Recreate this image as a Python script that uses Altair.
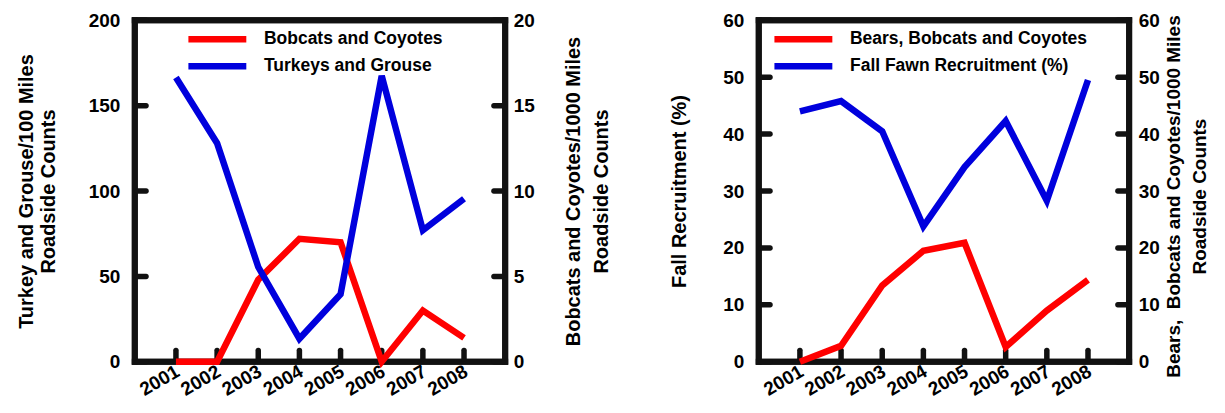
import altair as alt
import pandas as pd

# ---------------- data ----------------
years = [2001, 2002, 2003, 2004, 2005, 2006, 2007, 2008]

turkeys_grouse = [166.5, 128.0, 55.5, 13.5, 39.5, 167.5, 77.0, 95.5]
bobcats_coyotes = [0.0, 0.0, 4.8, 7.2, 7.0, 0.0, 3.0, 1.4]

fawn_recruitment = [44.0, 45.8, 40.5, 23.8, 34.2, 42.3, 28.3, 49.5]
bears_bobcats_coyotes = [0.0, 2.8, 13.4, 19.5, 20.9, 2.6, 9.0, 14.4]

left_ticks_a = [0, 50, 100, 150, 200]
left_ticks_b = [0, 5, 10, 15, 20]
right_ticks = [0, 10, 20, 30, 40, 50, 60]

name_bc = "Bobcats and Coyotes"
name_tg = "Turkeys and Grouse"
name_bbc = "Bears, Bobcats and Coyotes"
name_ff = "Fall Fawn Recruitment (%)"

# ---------------- style ----------------
FONT = "Liberation Sans"
RED = "#FF0000"
BLUE = "#0000DD"
INK = "#111111"
W, H = 371, 342
XDOM = [2000, 2009]
LINE_W = 6.5
TICK_W = 5.5
TICK_LEN = 14
FRAME_W = 6


def xs():
    return alt.Scale(domain=XDOM, nice=False, zero=False)


def ys(dom):
    return alt.Scale(domain=dom, nice=False)


def xaxis():
    return alt.Axis(values=years, format="d", title=None, labelAngle=330,
                    labelPadding=0, labelOffset=-3, ticks=False, domain=False,
                    grid=False, labelOverlap=False, labelFontSize=19)


def legend(lx, off):
    return alt.Legend(orient="none", legendX=lx, legendY=9.5, title=None,
                      symbolType="M-5,0L5,0", symbolSize=134.6,
                      symbolStrokeWidth=6.5, labelFont=FONT, labelFontSize=17.5,
                      labelFontWeight="bold", labelColor="black",
                      labelOffset=off, rowPadding=0, padding=0, labelLimit=0)


def panel(blue_vals, blue_name, blue_dom, blue_ticks, blue_axis,
          red_vals, red_name, red_dom, red_ticks, red_axis, lx, off):
    cscale = alt.Scale(domain=[red_name, blue_name], range=[RED, BLUE])
    lg = legend(lx, off)
    red_df = pd.DataFrame({"year": years, "value": red_vals, "series": [red_name] * len(years)})
    blue_df = pd.DataFrame({"year": years, "value": blue_vals, "series": [blue_name] * len(years)})
    mid_x = (XDOM[0] + XDOM[1]) / 2
    mid_y = (blue_dom[0] + blue_dom[1]) / 2

    # frame (four edges)
    edges_h = alt.Chart(pd.DataFrame({"v": blue_dom, "m": [mid_x, mid_x]})).mark_tick(
        orient="horizontal", thickness=FRAME_W, size=W + FRAME_W, color=INK, opacity=1
    ).encode(
        x=alt.X("m:Q", scale=xs(), axis=xaxis()),
        y=alt.Y("v:Q", scale=ys(blue_dom), axis=None),
    )
    edges_v = alt.Chart(pd.DataFrame({"e": XDOM, "m": [mid_y, mid_y]})).mark_tick(
        orient="vertical", thickness=FRAME_W, size=H + FRAME_W, color=INK, opacity=1
    ).encode(
        x=alt.X("e:Q", scale=xs(), axis=xaxis()),
        y=alt.Y("m:Q", scale=ys(blue_dom), axis=None),
    )
    # inward tick marks
    xt = alt.Chart(pd.DataFrame({"year": years, "v": [blue_dom[0]] * len(years)})).mark_tick(
        orient="vertical", thickness=TICK_W, size=TICK_LEN, color=INK, opacity=1,
        yOffset=-TICK_LEN / 2, cornerRadius=2.5
    ).encode(
        x=alt.X("year:Q", scale=xs(), axis=xaxis()),
        y=alt.Y("v:Q", scale=ys(blue_dom), axis=None),
    )
    ylt = alt.Chart(pd.DataFrame({"v": blue_ticks, "e": [XDOM[0]] * len(blue_ticks)})).mark_tick(
        orient="horizontal", thickness=TICK_W, size=TICK_LEN, color=INK, opacity=1,
        xOffset=TICK_LEN / 2, cornerRadius=2.5
    ).encode(
        x=alt.X("e:Q", scale=xs(), axis=xaxis()),
        y=alt.Y("v:Q", scale=ys(blue_dom), axis=None),
    )
    yrt = alt.Chart(pd.DataFrame({"v": red_ticks, "e": [XDOM[1]] * len(red_ticks)})).mark_tick(
        orient="horizontal", thickness=TICK_W, size=TICK_LEN, color=INK, opacity=1,
        xOffset=-TICK_LEN / 2, cornerRadius=2.5
    ).encode(
        x=alt.X("e:Q", scale=xs(), axis=xaxis()),
        y=alt.Y("v:Q", scale=ys(red_dom), axis=None),
    )

    red = alt.Chart(red_df).mark_line(strokeWidth=LINE_W).encode(
        x=alt.X("year:Q", scale=xs(), axis=xaxis()),
        y=alt.Y("value:Q", scale=ys(red_dom), axis=red_axis),
        color=alt.Color("series:N", scale=cscale, legend=lg),
    )
    blue = alt.Chart(blue_df).mark_line(strokeWidth=LINE_W).encode(
        x=alt.X("year:Q", scale=xs(), axis=xaxis()),
        y=alt.Y("value:Q", scale=ys(blue_dom), axis=blue_axis),
        color=alt.Color("series:N", scale=cscale, legend=lg),
    )
    return alt.layer(edges_h, edges_v, xt, ylt, yrt, red, blue).resolve_scale(
        y="independent").properties(width=W, height=H)


left = panel(
    turkeys_grouse, name_tg, [0, 200], left_ticks_a,
    alt.Axis(orient="left", values=left_ticks_a, title=["Turkey and Grouse/100 Miles", "Roadside Counts"],
             titleLineHeight=22, titlePadding=30, labelPadding=15),
    bobcats_coyotes, name_bc, [0, 20], left_ticks_b,
    alt.Axis(orient="right", values=left_ticks_b,
             title=["Bobcats and Coyotes/1000 Miles", "Roadside Counts"],
             titleAngle=270, titleBaseline="top", titleLineHeight=28,
             titleX=58, labelPadding=8),
    73.2, 37.2,
)

right = panel(
    fawn_recruitment, name_ff, [0, 60], right_ticks,
    alt.Axis(orient="left", values=right_ticks, title="Fall Recruitment (%)",
             titlePadding=33, labelPadding=15),
    bears_bobcats_coyotes, name_bbc, [0, 60], right_ticks,
    alt.Axis(orient="right", values=right_ticks,
             title=["Bears,\u00a0 Bobcats and Coyotes/1000 Miles", "Roadside Counts"],
             titleAngle=270, titleBaseline="top", titleLineHeight=26,
             titleX=35, titleY=H / 2 + 5, labelPadding=9, titleFontSize=19),
    35.2, 37.2,
)

chart = alt.hconcat(left, right, spacing=254, bounds="flush").resolve_scale(
    color="independent"
).configure_view(
    stroke=INK, strokeWidth=FRAME_W
).configure_axis(
    labelFont=FONT, labelFontSize=19, labelFontWeight="bold", labelColor="black",
    titleFont=FONT, titleFontSize=20, titleFontWeight="bold", titleColor="black",
    grid=False, ticks=False, tickSize=0, domain=False,
).properties(
    padding={"left": 5, "top": 0, "right": 5, "bottom": 0},
    background="white",
)

chart.save("out.html", embed_options={"renderer": "svg", "actions": False})
